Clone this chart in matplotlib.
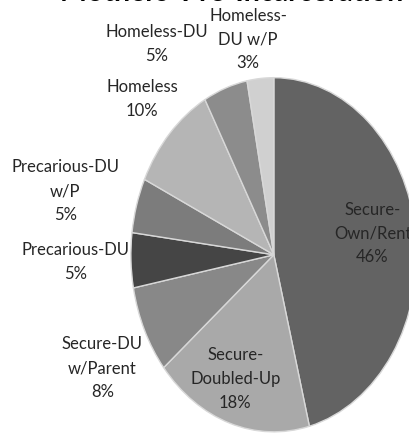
import matplotlib
matplotlib.use("Agg")
import matplotlib.pyplot as plt

categories = ["Secure-\nOwn/Rent", "Secure-\nDoubled-Up", "Secure-DU\nw/Parent",
              "Precarious-DU", "Precarious-DU\nw/P", "Homeless", "Homeless-DU",
              "Homeless-\nDU w/P"]
values = [46, 18, 8, 5, 5, 10, 5, 3]
colors = ["#636363", "#a9a9a9", "#888888", "#454545", "#7c7c7c", "#b5b5b5",
          "#8c8c8c", "#d0d0d0"]
title = "Mothers' Pre-Incarceration"

# label placement (data coords of the unit pie, layout only)
label_xy = [(0.69, 0.12), (-0.27, -0.70), (-1.20, -0.64), (-1.39, -0.04),
            (-1.46, 0.36), (-0.92, 0.88), (-0.82, 1.19), (-0.18, 1.215)]

plt.rcParams['font.family'] = ['Lato', 'DejaVu Sans']

fig = plt.figure(figsize=(4.09, 4.34), dpi=100)
ax = fig.add_axes([0.320, 0.005, 0.699, 0.816])

wedges, texts = ax.pie(values, colors=colors, startangle=90, counterclock=False,
                       labels=[f"{c}\n{v}%" for c, v in zip(categories, values)],
                       wedgeprops=dict(edgecolor="#d8d8d8", linewidth=1.0),
                       textprops=dict(fontsize=12, color="#262626",
                                      ha="center", va="center",
                                      linespacing=1.6))
for t, (x, y) in zip(texts, label_xy):
    t.set_position((x, y))
    t.set_ha("center")
    t.set_va("center")
    t.set_multialignment("center")

ax.set_aspect("auto")
ax.set_xlim(-1, 1)
ax.set_ylim(-1, 1)

fig.text(0.566, 0.998, title, ha="center", va="baseline", fontsize=20.5,
         fontweight="bold", color="black")

fig.savefig("out.png", dpi=100)
